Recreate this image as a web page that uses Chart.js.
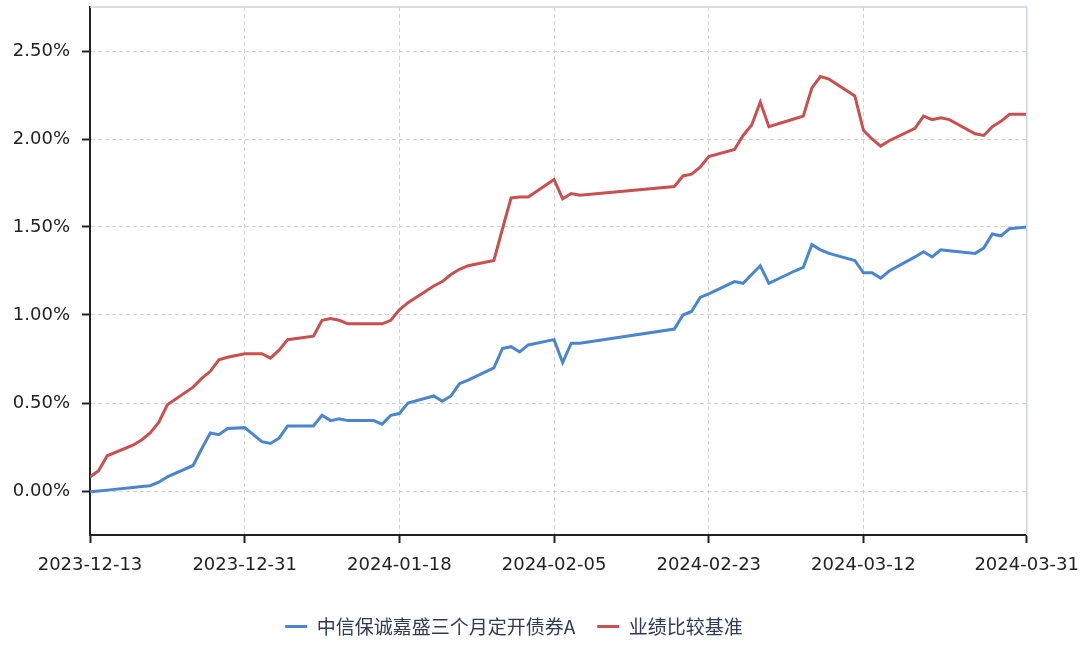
<!DOCTYPE html>
<html>
<head>
<meta charset="utf-8">
<script src="https://cdn.jsdelivr.net/npm/chart.js@4/dist/chart.umd.min.js"></script>
<style>
html,body{margin:0;padding:0;background:#fff;}
#wrap{width:1091px;height:646px;position:relative;}
</style>
</head>
<body>
<div id="wrap"><canvas id="c"></canvas></div>
<script>
const dates = [
  "2023-12-13","2023-12-14","2023-12-15","2023-12-18","2023-12-19","2023-12-20","2023-12-21","2023-12-22",
  "2023-12-25","2023-12-26","2023-12-27","2023-12-28","2023-12-29","2023-12-31",
  "2024-01-02","2024-01-03","2024-01-04","2024-01-05","2024-01-08","2024-01-09","2024-01-10","2024-01-11",
  "2024-01-12","2024-01-15","2024-01-16","2024-01-17","2024-01-18","2024-01-19","2024-01-22","2024-01-23",
  "2024-01-24","2024-01-25","2024-01-26","2024-01-29","2024-01-30","2024-01-31",
  "2024-02-01","2024-02-02","2024-02-05","2024-02-06","2024-02-07","2024-02-08","2024-02-19","2024-02-20",
  "2024-02-21","2024-02-22","2024-02-23","2024-02-26","2024-02-27","2024-02-28","2024-02-29",
  "2024-03-01","2024-03-04","2024-03-05","2024-03-06","2024-03-07","2024-03-08","2024-03-11","2024-03-12",
  "2024-03-13","2024-03-14","2024-03-15","2024-03-18","2024-03-19","2024-03-20","2024-03-21","2024-03-22",
  "2024-03-25","2024-03-26","2024-03-27","2024-03-28","2024-03-29","2024-03-31"
];

// 中信保诚嘉盛三个月定开债券A (%)
const fundValues = [
  -0.005, 0.00, 0.005, 0.02, 0.025, 0.03, 0.05, 0.08,
  0.145, 0.24, 0.33, 0.32, 0.355, 0.36,
  0.28, 0.27, 0.30, 0.37, 0.37, 0.43, 0.40, 0.41,
  0.40, 0.40, 0.38, 0.43, 0.44, 0.50, 0.54, 0.51,
  0.54, 0.61, 0.63, 0.70, 0.81, 0.82,
  0.79, 0.83, 0.86, 0.73, 0.84, 0.84, 0.92, 1.00,
  1.02, 1.10, 1.12, 1.19, 1.18, 1.23, 1.28,
  1.18, 1.25, 1.27, 1.40, 1.37, 1.35, 1.31, 1.24,
  1.24, 1.21, 1.25, 1.33, 1.36, 1.33, 1.37, 1.365,
  1.35, 1.38, 1.46, 1.45, 1.49, 1.50
];

// 业绩比较基准 (%)
const benchValues = [
  0.08, 0.115, 0.20, 0.26, 0.29, 0.33, 0.39, 0.49,
  0.59, 0.64, 0.68, 0.745, 0.76, 0.78,
  0.78, 0.755, 0.80, 0.86, 0.88, 0.97, 0.98, 0.97,
  0.95, 0.95, 0.95, 0.97, 1.03, 1.07, 1.165, 1.19,
  1.23, 1.26, 1.28, 1.31, 1.49, 1.665,
  1.67, 1.67, 1.77, 1.66, 1.69, 1.68, 1.73, 1.79,
  1.80, 1.84, 1.90, 1.94, 2.02, 2.08, 2.21,
  2.07, 2.115, 2.13, 2.29, 2.355, 2.34, 2.245, 2.05,
  2.00, 1.96, 1.99, 2.06, 2.13, 2.11, 2.12, 2.11,
  2.03, 2.02, 2.07, 2.10, 2.14, 2.14
];

const seriesNames = ["中信保诚嘉盛三个月定开债券A", "业绩比较基准"];
const xTickLabels = ["2023-12-13","2023-12-31","2024-01-18","2024-02-05","2024-02-23","2024-03-12","2024-03-31"];
const yTickValues = [0, 0.5, 1, 1.5, 2, 2.5];
const yMin = -0.25, yMax = 2.75;

const DAY = 86400000;
const t0 = Date.parse(dates[0] + "T00:00:00Z");
const toDay = s => Math.round((Date.parse(s + "T00:00:00Z") - t0) / DAY);
const xTickPos = xTickLabels.map(toDay);
const labelAt = {};
xTickLabels.forEach((l, i) => { labelAt[xTickPos[i]] = l; });

const fundData = dates.map((d, i) => ({ x: toDay(d), y: fundValues[i] }));
const benchData = dates.map((d, i) => ({ x: toDay(d), y: benchValues[i] }));

const frame = {
  id: 'frame',
  afterDatasetsDraw(chart) {
    const { ctx, chartArea: a } = chart;
    ctx.save();
    ctx.strokeStyle = '#c9d3e2';
    ctx.lineWidth = 1.5;
    ctx.beginPath();
    ctx.moveTo(a.left, a.top);
    ctx.lineTo(a.right, a.top);
    ctx.lineTo(a.right, a.bottom);
    ctx.stroke();
    ctx.restore();
  }
};

const tickFont = { family: '"DejaVu Sans", sans-serif', size: 18 };

new Chart(document.getElementById('c'), {
  type: 'line',
  data: {
    datasets: [
      { label: seriesNames[0], data: fundData, borderColor: '#4a86cf', backgroundColor: '#4a86cf',
        borderWidth: 3, pointRadius: 0, tension: 0 },
      { label: seriesNames[1], data: benchData, borderColor: '#c9504f', backgroundColor: '#c9504f',
        borderWidth: 3, pointRadius: 0, tension: 0 }
    ]
  },
  options: {
    responsive: true,
    maintainAspectRatio: false,
    animation: false,
    layout: { padding: { top: 7, right: 63, left: 0, bottom: 0 } },
    plugins: {
      tooltip: { enabled: false },
      legend: {
        position: 'bottom',
        labels: {
          usePointStyle: true,
          pointStyle: 'line',
          pointStyleWidth: 22,
          padding: 22,
          color: '#2e3b57',
          font: { family: '"Noto Sans CJK SC", sans-serif', size: 19 }
        }
      }
    },
    scales: {
      x: {
        type: 'linear',
        min: xTickPos[0],
        max: xTickPos[xTickPos.length - 1],
        afterBuildTicks: s => { s.ticks = xTickPos.map(v => ({ value: v })); },
        afterFit: s => { s.height = 60; },
        ticks: {
          autoSkip: false, maxRotation: 0, minRotation: 0, padding: 12,
          color: '#222', font: tickFont,
          callback: v => labelAt[v] || ''
        },
        grid: { color: '#d2d2d2', lineWidth: 1, tickColor: '#222', tickLength: 8, tickWidth: 2, tickBorderDash: [] },
        border: { color: '#222', width: 2, dash: [4, 3] }
      },
      y: {
        type: 'linear',
        min: yMin,
        max: yMax,
        afterBuildTicks: s => { s.ticks = yTickValues.map(v => ({ value: v })); },
        afterFit: s => { s.width = 90; s.paddingTop = 0; s.paddingBottom = 0; },
        ticks: {
          padding: 12, color: '#222', font: tickFont,
          callback: v => v.toFixed(2) + '%'
        },
        grid: { color: '#d2d2d2', lineWidth: 1, tickColor: '#222', tickLength: 8, tickWidth: 2, tickBorderDash: [] },
        border: { color: '#222', width: 2, dash: [4, 3] }
      }
    }
  },
  plugins: [frame]
});
</script>
</body>
</html>
